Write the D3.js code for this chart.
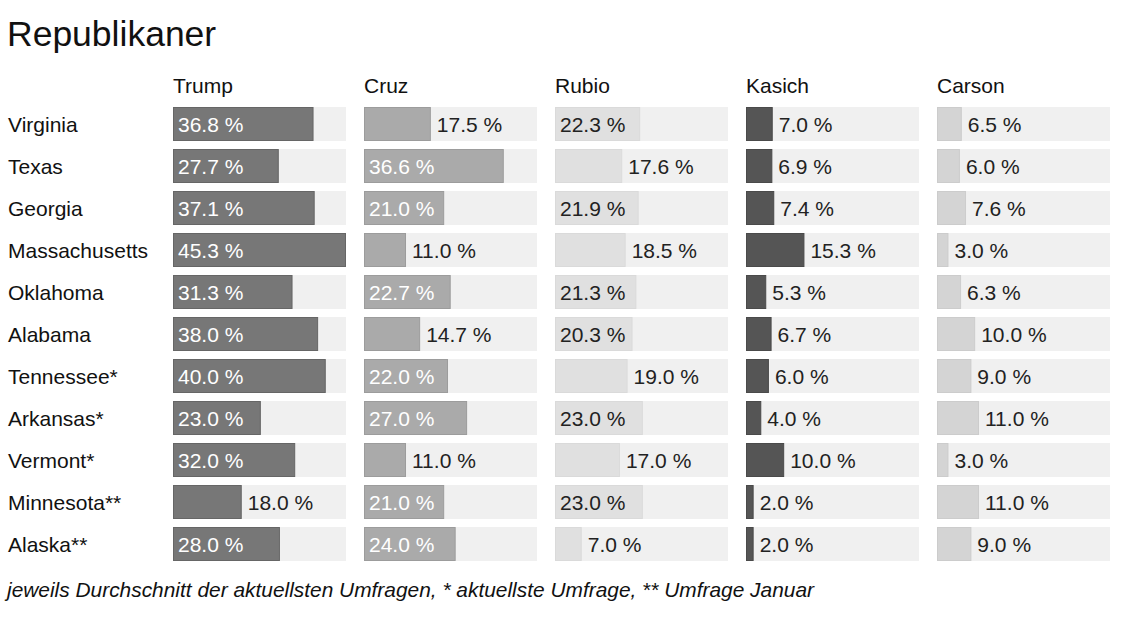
<!DOCTYPE html>
<html><head><meta charset="utf-8">
<script src="https://cdn.jsdelivr.net/npm/d3@7/dist/d3.min.js"></script>
<style>
body{margin:0;background:#fff;}
svg text{font-family:"Liberation Sans",Arial,Helvetica,sans-serif;}
</style></head>
<body>
<svg id="chart" width="1136" height="640"></svg>
<script>
const title = "Republikaner";
const footnote = "jeweils Durchschnitt der aktuellsten Umfragen, * aktuellste Umfrage, ** Umfrage Januar";
const states = ["Virginia","Texas","Georgia","Massachusetts","Oklahoma","Alabama","Tennessee*","Arkansas*","Vermont*","Minnesota**","Alaska**"];
const candidates = ["Trump","Cruz","Rubio","Kasich","Carson"];
const trump  = [36.8,27.7,37.1,45.3,31.3,38.0,40.0,23.0,32.0,18.0,28.0];
const cruz   = [17.5,36.6,21.0,11.0,22.7,14.7,22.0,27.0,11.0,21.0,24.0];
const rubio  = [22.3,17.6,21.9,18.5,21.3,20.3,19.0,23.0,17.0,23.0,7.0];
const kasich = [7.0,6.9,7.4,15.3,5.3,6.7,6.0,4.0,10.0,2.0,2.0];
const carson = [6.5,6.0,7.6,3.0,6.3,10.0,9.0,11.0,3.0,11.0,9.0];
const seriesValues = [trump,cruz,rubio,kasich,carson];

const barColors = ["#777777","#aaaaaa","#e0e0e0","#555555","#d4d4d4"];
const barStroke = ["#666666","#9c9c9c","#dadada","#4a4a4a","#cccccc"];
const insideText = ["#ffffff","#ffffff","#222222","#ffffff","#222222"];
const bgColor = "#f0f0f0";

const svg = d3.select("#chart");
const colStart = 173, colStep = 191, colWidth = 173;
const rowTop = 107, rowStep = 42, barH = 34;

const maxVal = d3.max(seriesValues.flat());
const x = d3.scaleLinear().domain([0, maxVal]).range([0, colWidth]);
const y = d3.scaleBand().domain(states)
  .range([rowTop, rowTop + rowStep*states.length - (rowStep-barH)])
  .paddingInner((rowStep-barH)/rowStep).paddingOuter(0).align(0);
const colX = d3.scaleOrdinal().domain(candidates).range(candidates.map((c,i)=>colStart + i*colStep));

svg.append("text").attr("x",7).attr("y",46).attr("font-size",35.5).attr("fill","#111").text(title);

svg.selectAll("text.state").data(states).join("text")
  .attr("class","state").attr("x",8)
  .attr("y",d=>y(d)+y.bandwidth()/2+7.5)
  .attr("font-size",21).attr("fill","#111").text(d=>d);

candidates.forEach((c,ci)=>{
  const g = svg.append("g").attr("transform",`translate(${colX(c)},0)`);
  g.append("text").attr("x",0).attr("y",93).attr("font-size",21).attr("fill","#111").text(c);
  const data = states.map((s,i)=>({s, v: seriesValues[ci][i]}));
  g.selectAll("rect.bg").data(data).join("rect").attr("class","bg")
    .attr("x",0).attr("y",d=>y(d.s)).attr("width",colWidth).attr("height",y.bandwidth())
    .attr("fill",bgColor);
  g.selectAll("rect.bar").data(data).join("rect").attr("class","bar")
    .attr("x",0.5).attr("y",d=>y(d.s)+0.5).attr("width",d=>Math.max(0,x(d.v)-1)).attr("height",y.bandwidth()-1)
    .attr("fill",barColors[ci]).attr("stroke",barStroke[ci]).attr("stroke-width",1);
  g.selectAll("text.val").data(data).join("text").attr("class","val")
    .attr("x",d=>{
      const inside = (ci<3) && d.v>=20;
      return inside ? 5 : x(d.v)+6;
    })
    .attr("y",d=>y(d.s)+y.bandwidth()/2+7.5)
    .attr("font-size",21)
    .attr("fill",d=>((ci<3) && d.v>=20) ? insideText[ci] : "#222")
    .text(d=>d.v.toFixed(1)+" %");
});

svg.append("text").attr("x",7).attr("y",597).attr("font-size",20.9).attr("font-style","italic").attr("fill","#111").text(footnote);
</script>
</body></html>
